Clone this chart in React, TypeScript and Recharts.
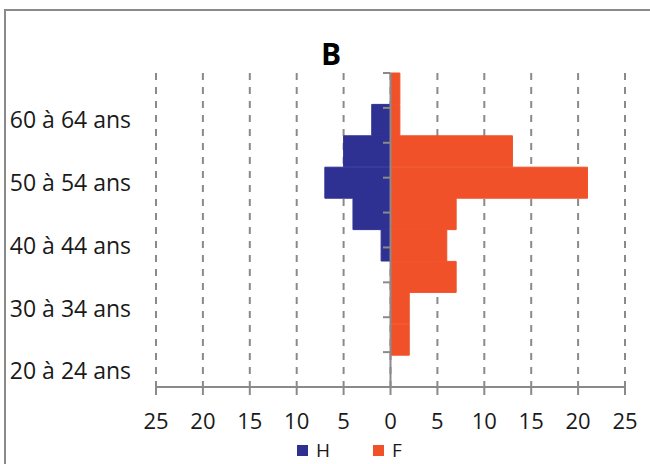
import React from "react";
import {
  BarChart,
  Bar,
  XAxis,
  YAxis,
  CartesianGrid,
  Tooltip,
  Legend,
  ReferenceLine,
} from "recharts";

// age groups, top to bottom
const ages = [
  "65 à 69 ans",
  "60 à 64 ans",
  "55 à 59 ans",
  "50 à 54 ans",
  "45 à 49 ans",
  "40 à 44 ans",
  "35 à 39 ans",
  "30 à 34 ans",
  "25 à 29 ans",
  "20 à 24 ans",
];
const hommes = [0, 2, 5, 7, 4, 1, 0, 0, 0, 0];
const femmes = [1, 1, 13, 21, 7, 6, 7, 2, 2, 0];
const xTicks = [-25, -20, -15, -10, -5, 0, 5, 10, 15, 20, 25];
const boundaries = [0, 1, 2, 3, 4, 5, 6, 7, 8, 9, 10];
const seriesOrder = ["H", "F"];

// men drawn to the left
const data = ages.map((age, i) => ({ age, H: -hommes[i], F: femmes[i] }));

const GRAY = "#8a8a8a";

const renderLegend = (props: any) => {
  const items = [...(props.payload || [])].sort(
    (a: any, b: any) => seriesOrder.indexOf(a.value) - seriesOrder.indexOf(b.value)
  );
  return (
    <div style={{ display: "flex", alignItems: "center", height: 28, paddingLeft: 297 }}>
      {items.map((p: any) => (
        <div key={p.value} style={{ display: "flex", alignItems: "center", marginRight: 43 }}>
          <span style={{ width: 11, height: 11, background: p.color, marginRight: 8, display: "inline-block" }} />
          <span style={{ fontSize: 19, color: "#1a1a1a", lineHeight: "20px" }}>{p.value}</span>
        </div>
      ))}
    </div>
  );
};

const App: React.FC = () => {
  return (
    <div
      style={{
        position: "absolute",
        left: 0,
        top: 0,
        width: 650,
        height: 464,
        overflow: "hidden",
        background: "#fff",
        fontFamily: '"Open Sans", sans-serif',
      }}
    >
      <div
        style={{
          position: "absolute",
          left: 4,
          top: 9,
          width: 660,
          height: 470,
          borderLeft: `2px solid ${GRAY}`,
          borderTop: `2px solid ${GRAY}`,
        }}
      />
      <div
        style={{
          position: "absolute",
          top: 39,
          left: 0,
          width: 662,
          textAlign: "center",
          fontSize: 30,
          fontWeight: 700,
          lineHeight: 1,
          color: "#000",
        }}
      >
        B
      </div>
      <BarChart
        width={650}
        height={464}
        data={data}
        layout="vertical"
        stackOffset="sign"
        barCategoryGap={0}
        margin={{ top: 73, right: 25, left: 0, bottom: 0 }}
      >
        <CartesianGrid
          horizontal={false}
          stroke={GRAY}
          strokeWidth={2}
          strokeDasharray="7 7"
        />
        <XAxis
          type="number"
          domain={[-25, 25]}
          ticks={xTicks}
          tickFormatter={(v: number) => String(Math.abs(v))}
          axisLine={{ stroke: GRAY, strokeWidth: 2 }}
          tickLine={{ stroke: GRAY, strokeWidth: 2 }}
          tickSize={8}
          tickMargin={18}
          height={49}
          tick={{ fill: "#1a1a1a", fontSize: 22 }}
        />
        <YAxis
          type="category"
          dataKey="age"
          width={156}
          interval={0}
          axisLine={false}
          tickLine={false}
          tickSize={0}
          tickMargin={25}
          tickFormatter={(v: string, i: number) => (i % 2 === 1 ? v : "")}
          tick={{ fill: "#1a1a1a", fontSize: 23 }}
        />
        <YAxis yAxisId="n" type="number" domain={[0, 10]} hide />
        <Tooltip formatter={(v: any) => Math.abs(Number(v))} />
        <Legend verticalAlign="bottom" content={renderLegend} />
        <Bar dataKey="H" stackId="p" fill="#2E3192" stroke="#2E3192" strokeWidth={1} isAnimationActive={false} />
        <Bar dataKey="F" stackId="p" fill="#F15129" stroke="#F15129" strokeWidth={1} isAnimationActive={false} />
        <ReferenceLine x={0} stroke={GRAY} strokeWidth={2} />
        {boundaries.map((b) => (
          <ReferenceLine
            key={b}
            yAxisId="n"
            segment={[
              { x: -0.8, y: b },
              { x: 0, y: b },
            ]}
            stroke={GRAY}
            strokeWidth={2}
          />
        ))}
      </BarChart>
    </div>
  );
};

export default App;
